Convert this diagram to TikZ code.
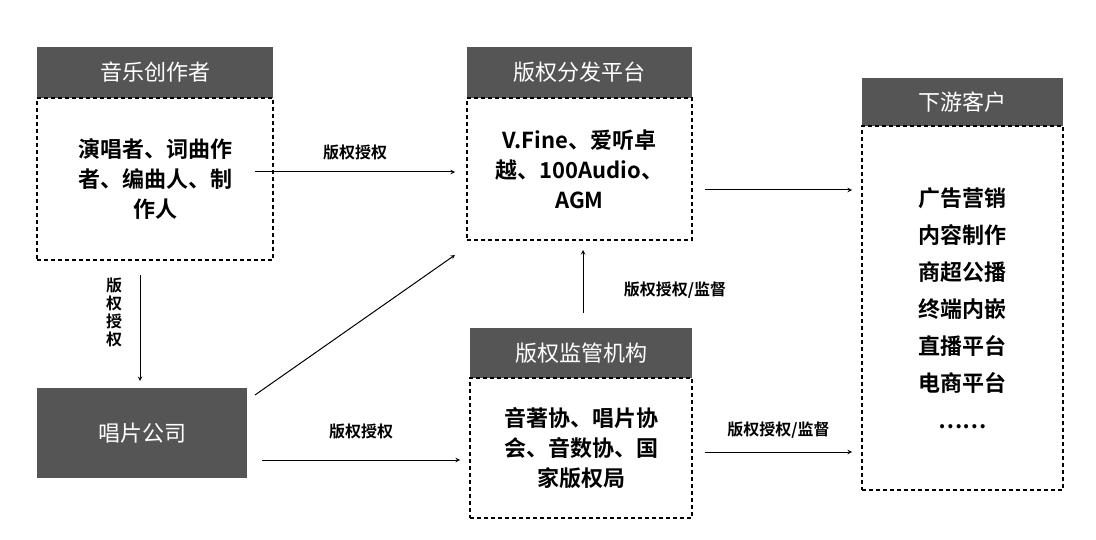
\documentclass[tikz,border=0pt]{standalone}
\usepackage{fontspec}
\setmainfont{Noto Sans CJK SC}[BoldFont={* Bold}]
\begin{document}
\begin{tikzpicture}[x=1pt,y=-1pt,
 hdr/.style={fill=hgray,text=white,font=\fontsize{22}{24}\selectfont,inner sep=0},
 dbox/.style={draw,dashed,line width=1.6pt,dash pattern=on 4pt off 3pt,align=center,font=\bfseries\fontsize{22}{30}\selectfont,inner sep=0},
 arr/.style={-stealth,line width=1pt},
 lab/.style={font=\bfseries\fontsize{16}{18}\selectfont}]
\definecolor{hgray}{HTML}{555555}
\useasboundingbox (0,0) rectangle (1096,540);
% 音乐创作者
\node[hdr,minimum width=236,minimum height=51] (h1) at (155,72.5) {音乐创作者};
\node[dbox,minimum width=236,minimum height=162] (b1) at (155,179) {演唱者、词曲作\\者、编曲人、制\\作人};
% 版权分发平台
\node[hdr,minimum width=225,minimum height=51] (h2) at (579.5,72.5) {版权分发平台};
\node[dbox,minimum width=225,minimum height=142] (b2) at (579.5,169) {V.Fine、爱听卓\\越、100Audio、\\AGM};
% 下游客户
\node[hdr,minimum width=201,minimum height=48] (h3) at (962.5,102) {下游客户};
\node[dbox,minimum width=201,minimum height=364,font=\bfseries\fontsize{22}{37}\selectfont] (b3) at (962.5,308) {广告营销\\内容制作\\商超公播\\终端内嵌\\直播平台\\电商平台\\……};
% 唱片公司
\node[hdr,minimum width=210,minimum height=90] (h4) at (142,433) {唱片公司};
% 版权监管机构
\node[hdr,minimum width=222,minimum height=50] (h5) at (581,353) {版权监管机构};
\node[dbox,minimum width=222,minimum height=140] (b5) at (581,448) {音著协、唱片协\\会、音数协、国\\家版权局};
% coordinates
\coordinate (a1s) at (255,172); \coordinate (a1e) at (455,172);
\coordinate (a2s) at (705,190); \coordinate (a2e) at (852,190);
\coordinate (a3s) at (140,275); \coordinate (a3e) at (140,381);
\coordinate (a4s) at (255,395); \coordinate (a4e) at (455,255);
\coordinate (a5s) at (262,460); \coordinate (a5e) at (460,460);
\coordinate (a6s) at (583,313); \coordinate (a6e) at (583,250);
\coordinate (a7s) at (705,452); \coordinate (a7e) at (852,452);
\draw[arr] (a1s) -- (a1e) node[lab,midway,above=8pt] {版权授权};
\draw[arr] (a2s) -- (a2e);
\draw[arr] (a3s) -- (a3e);
\node[lab,align=center,font=\bfseries\fontsize{16}{18}\selectfont] at (114,312) {版\\权\\授\\权};
\draw[arr] (a4s) -- (a4e);
\draw[arr] (a5s) -- (a5e) node[lab,midway,above=17pt] {版权授权};
\draw[arr] (a6s) -- (a6e);
\node[lab] at (675,290) {版权授权/监督};
\draw[arr] (a7s) -- (a7e) node[lab,midway,above=10pt] {版权授权/监督};
\end{tikzpicture}
\end{document}
